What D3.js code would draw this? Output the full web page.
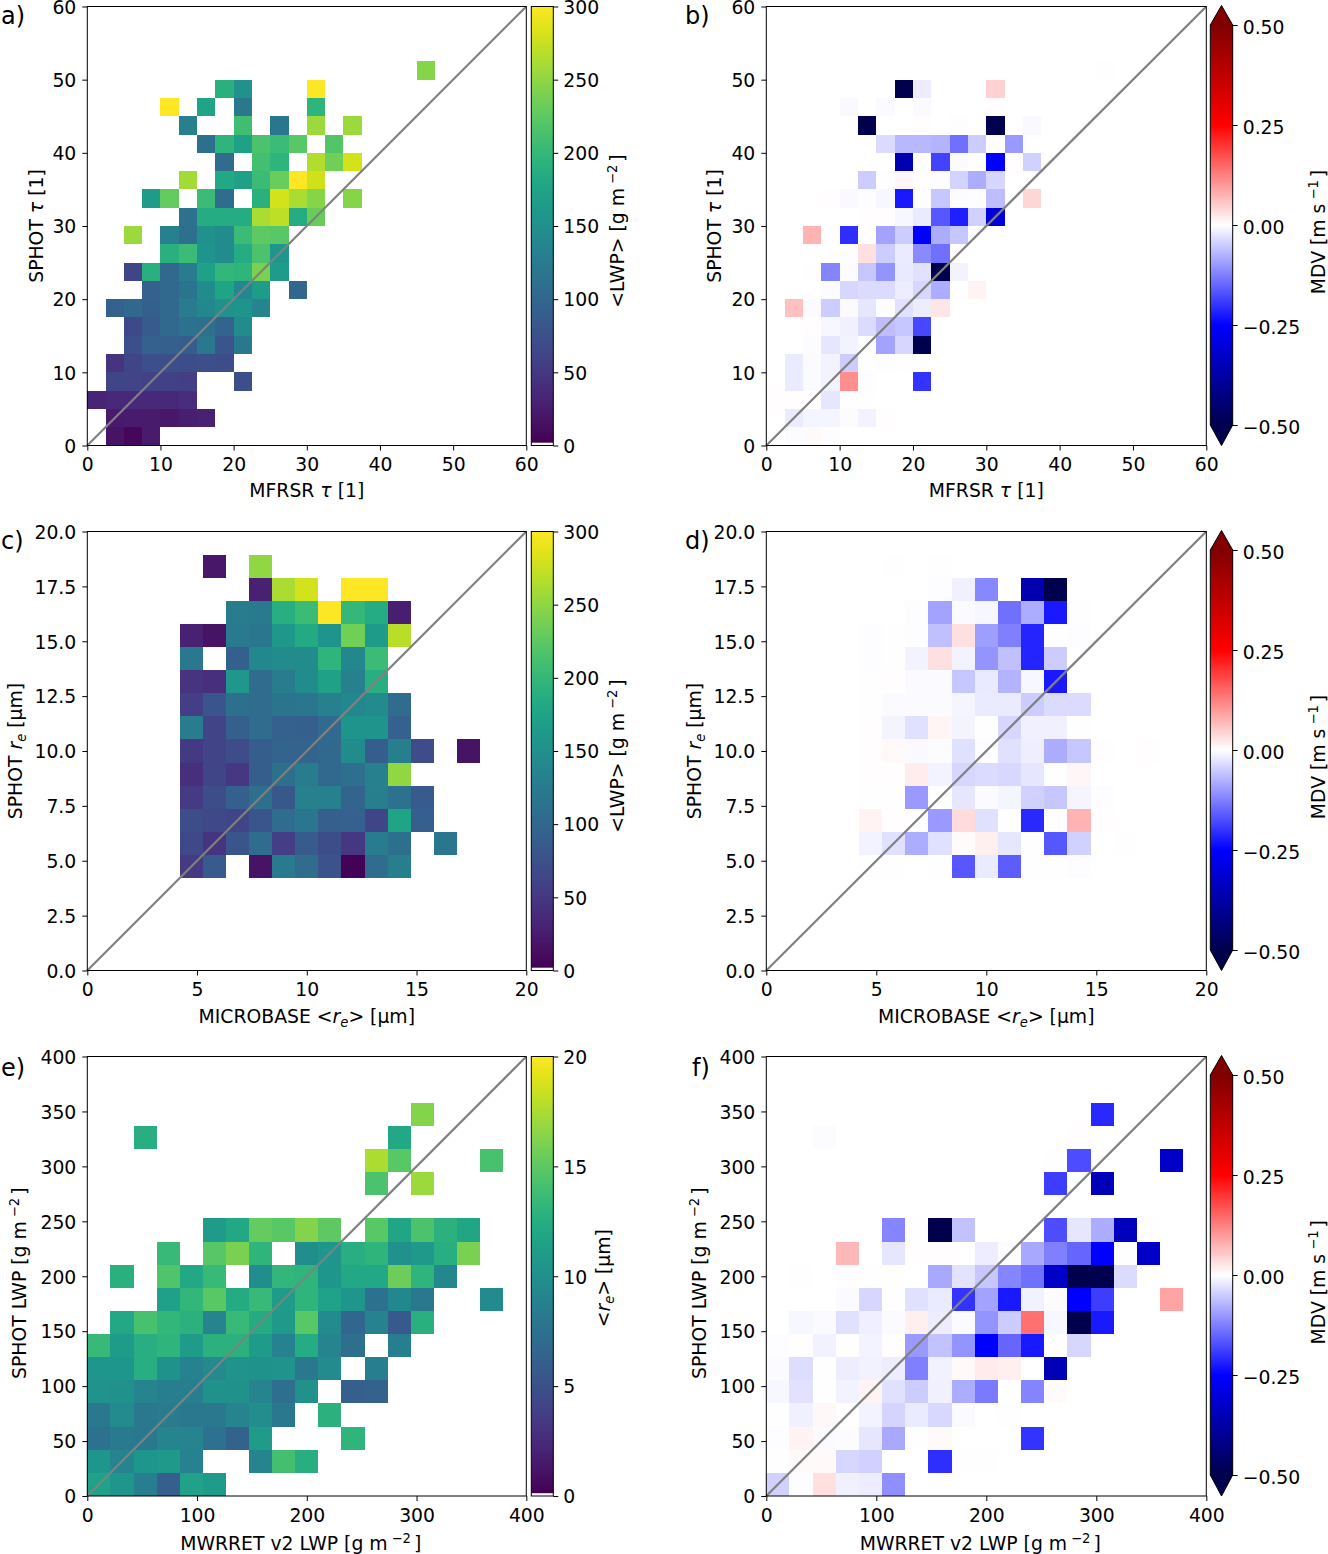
<!DOCTYPE html>
<html>
<head>
<meta charset="utf-8">
<script src="https://cdn.jsdelivr.net/npm/d3@7"></script>
<style>
  html, body { margin: 0; padding: 0; background: #fff; }
  svg { display: block; }
  text { font-family: "DejaVu Sans", sans-serif; fill: #000; }
</style>
</head>
<body>
<svg id="chart" width="1328" height="1554"></svg>
<script>
const _ = null;

// mean LWP binned on MFRSR tau (rows) / SPHOT tau, row 0 is the bottom row
const tauLwp = [
  [_,15,5,22],
  [_,20,22,22,18,25,28],
  [30,33,33,33,33,38],
  [_,62,60,58,58,55,_,_,72],
  [_,45,62,72,72,70,72,70],
  [_,_,72,92,90,88,120,78,120],
  [_,_,65,85,100,112,110,95,145],
  [_,92,100,90,100,125,140,150,155,135],
  [_,_,_,92,100,115,145,175,140,165,_,98],
  [_,_,62,190,100,125,170,198,195,240,165],
  [_,_,_,_,190,205,155,145,185,215,158],
  [_,_,255,_,130,110,150,145,205,225,222],
  [_,_,_,_,_,112,185,185,185,262,270,185,230],
  [_,_,_,165,228,_,205,105,_,190,280,262,245,_,245],
  [_,_,_,_,_,258,_,180,170,205,232,300,278],
  [_,_,_,_,_,_,_,105,_,210,195,_,265,235,280],
  [_,_,_,_,_,_,110,195,170,215,205,222,_,218],
  [_,_,_,_,_,130,_,_,208,_,118,_,255,_,255],
  [_,_,_,_,300,_,175,_,120,_,_,_,195],
  [_,_,_,_,_,_,_,190,150,_,_,_,300],
  [_,_,_,_,_,_,_,_,_,_,_,_,_,_,_,_,_,_,245],
];

const tauMdv = [
  [_,-.003,.005,-.002],
  [_,-.02,-.01,-.01,-.003,-.012,.002],
  [.002,.002,.002,-.025,.001,.001],
  [_,-.02,-.005,-.012,.11,-.002,_,_,-.2],
  [_,-.02,-.005,-.012,-.05,.001,-.002,-.001],
  [_,_,-.003,-.025,-.012,-.002,-.09,-.04,-.5],
  [_,_,.002,-.008,-.015,-.035,-.065,-.055,-.18],
  [_,.062,-.004,-.05,-.005,-.025,-.002,-.03,-.018,.025],
  [_,_,_,-.003,-.04,-.035,-.035,-.018,-.04,-.08,_,.012],
  [_,_,.002,-.12,-.003,-.055,-.105,-.022,-.028,-.5,-.012],
  [_,_,_,_,-.002,.03,-.05,-.02,-.115,-.14,.002],
  [_,_,.075,_,-.205,.002,-.09,-.05,-.25,-.08,-.055],
  [_,_,_,_,_,.002,.002,-.008,-.02,-.165,-.22,-.045,-.3],
  [_,_,_,.002,-.006,-.002,-.008,-.225,-.002,-.055,-.003,-.002,-.065,_,.04],
  [_,_,_,_,_,-.05,-.001,.008,.002,-.002,-.043,-.08,-.04],
  [_,_,_,_,_,_,_,-.36,-.001,-.185,-.005,-.001,-.25,.002,-.045],
  [_,_,_,_,_,_,-.035,-.07,-.07,-.075,-.14,-.05,-.001,-.1],
  [_,_,_,_,_,-.5,_,_,.002,_,-.002,_,-.5,_,-.006],
  [_,_,_,_,-.006,_,-.004,_,-.004,_,_,_,.002],
  [_,_,_,_,_,_,_,-.5,-.018,_,_,_,.045],
  [_,_,_,_,_,_,_,_,_,_,_,_,_,_,_,_,_,_,-.001],
];

const reLwp = [
  [],[],[],[],
  [_,_,_,_,52,85,_,15,122,105,75,2,105,128],
  [_,_,_,_,65,45,78,105,55,85,70,48,125,110,_,118],
  [_,_,_,_,70,65,62,78,105,118,90,92,62,175,90],
  [_,_,_,_,52,70,90,108,82,130,130,95,128,112,85],
  [_,_,_,_,42,62,48,88,110,125,100,108,130,250],
  [_,_,_,_,50,60,68,88,95,95,100,145,88,128,68,_,15],
  [_,_,_,_,125,60,90,105,92,90,102,155,155,92],
  [_,_,_,_,55,78,110,105,115,118,130,140,145,105],
  [_,_,_,_,45,40,160,105,125,145,170,130,188],
  [_,_,_,_,120,_,90,140,145,145,195,140,205],
  [_,_,_,_,28,15,122,118,160,182,155,235,165,268],
  [_,_,_,_,_,_,125,122,188,205,300,200,185,25],
  [_,_,_,_,_,_,_,28,262,280,_,300,300],
  [_,_,_,_,_,18,_,250],
];

const reMdv = [
  [],[],[],[],
  [_,_,_,_,.001,-.001,_,.001,-.165,-.02,-.16,-.001,-.001,-.002],
  [_,_,_,_,-.012,-.03,-.08,-.03,.004,.015,-.025,.001,-.165,-.045,_,-.001],
  [_,_,_,_,.012,.002,.001,-.1,.035,-.03,-.001,-.21,-.001,.075,.002],
  [_,_,_,_,-.001,.001,-.1,-.001,-.025,-.005,-.01,-.045,-.055,-.01,-.002],
  [_,_,_,_,.002,.002,.018,-.012,-.04,-.035,-.038,-.025,-.001,.008],
  [_,_,_,_,.002,.006,-.006,-.003,-.03,-.002,-.03,-.017,-.08,-.055,.002,_,.002],
  [_,_,_,_,.002,-.011,-.03,.01,-.011,-.001,-.04,-.015,-.015,-.001],
  [_,_,_,_,.001,-.005,-.005,-.005,-.01,-.02,-.02,-.05,-.035,-.035],
  [_,_,_,_,.001,.002,-.005,-.005,-.055,-.022,-.075,-.008,-.225],
  [_,_,_,_,-.002,.001,-.012,.03,-.012,-.105,-.062,-.215,-.05],
  [_,_,_,_,-.002,.001,-.002,-.062,.03,-.095,-.125,-.215,-.001,-.002],
  [_,_,_,_,_,_,-.002,-.09,-.005,-.008,-.14,-.08,-.225,.001],
  [_,_,_,_,_,_,_,-.002,-.015,-.118,_,-.36,-.5],
  [_,_,_,_,_,-.001,_,.001],
];

const lwpRe = [
  [11.5,10.5,8.5,6,11.5,11],
  [10.5,9,10.5,10.8,8.8,_,_,9,14,12.5],
  [7.5,8.2,8,9,9,7.5,6.3,11,_,_,_,13],
  [8,9.5,8,8.3,8,8,9,9.8,8,_,12.8],
  [10.3,10,9,8.5,8.5,10,10,9,7.2,10,_,6,6.2],
  [10.5,10.5,12.5,10.2,8.8,9.5,10.3,10.2,10.3,8,9.5,_,8.5],
  [13.5,11,12.5,13,11,12.8,12.8,11,8.8,12.3,9,7.2,_,8.5],
  [_,12,14.2,13.2,12.8,9,13.5,12.2,10.8,14.8,9.5,6.5,8.8,5.5,12.7],
  [_,_,_,11.3,13.2,14.8,12.2,13.5,11,13,11.5,10.5,7.5,9.3,8,_,_,9.5],
  [_,12.7,_,14.5,12,13.5,_,9.8,13.2,13,10.5,12,12,15.5,13,9.3],
  [_,_,_,13.5,_,14.7,16,13,_,9.8,10.5,12.5,13,10,10.8,12.5,16],
  [_,_,_,_,_,11,12,15.2,14.8,16.3,15,_,14.8,11.8,14.3,12.8,11.8],
  [],
  [_,_,_,_,_,_,_,_,_,_,_,_,14.3,_,17],
  [_,_,_,_,_,_,_,_,_,_,_,_,17.5,14.8,_,_,_,14.2],
  [_,_,12.5,_,_,_,_,_,_,_,_,_,_,12],
  [_,_,_,_,_,_,_,_,_,_,_,_,_,_,16.3],
];

const lwpMdv = [
  [-.045,-.002,.03,-.015,-.018,-.11],
  [.001,.005,.006,-.04,-.045,_,_,-.205,.001,.001],
  [-.002,.012,-.004,-.003,-.025,-.085,-.001,.005,_,_,_,-.2],
  [.001,-.015,.007,.002,-.012,-.042,-.02,-.038,-.005,_,.001],
  [-.008,-.028,-.001,-.012,.012,-.03,-.05,-.015,-.08,-.13,_,-.12,.004],
  [-.005,-.033,-.001,-.018,-.013,-.018,-.125,-.013,.006,.02,.016,_,-.35],
  [-.002,.002,-.014,.001,-.012,.002,-.1,-.06,-.105,-.25,-.15,-.225,_,-.04],
  [_,-.008,-.005,-.03,-.016,-.005,.015,-.018,-.004,-.105,-.05,.14,-.008,-.5,-.225],
  [_,_,_,-.005,-.04,-.001,-.03,-.02,-.2,-.09,-.225,-.013,-.003,-.25,-.19,_,_,.09],
  [_,-.001,_,.002,.001,.001,_,-.085,-.027,-.055,-.12,-.14,-.33,-.5,-.5,-.035],
  [_,_,_,.07,_,-.025,.002,.002,_,-.018,-.003,-.085,-.125,-.15,-.25,-.001,-.33],
  [_,_,_,_,_,-.12,.001,-.5,-.06,_,_,_,-.175,-.025,-.08,-.34,.002],
  [],
  [_,_,_,_,_,_,_,_,_,_,_,_,-.19,_,-.35],
  [_,_,_,_,_,_,_,_,_,_,_,_,.001,-.175,_,_,_,-.33],
  [_,_,-.003,_,_,_,_,_,_,_,_,_,_,.002],
  [_,_,_,_,_,_,_,_,_,_,_,_,_,_,-.21],
];

const tauTicks = [0, 10, 20, 30, 40, 50, 60];
const reXTicks = [0, 5, 10, 15, 20];
const reYTicks = [0, 2.5, 5, 7.5, 10, 12.5, 15, 17.5, 20];
const lwpXTicks = [0, 100, 200, 300, 400];
const lwpYTicks = [0, 50, 100, 150, 200, 250, 300, 350, 400];
const lwpCbarTicks = [0, 50, 100, 150, 200, 250, 300];
const reCbarTicks = [0, 5, 10, 15, 20];
const mdvCbarTicks = [-0.5, -0.25, 0, 0.25, 0.5];

const seismic = d3.scaleLinear()
  .domain([-0.5, -0.25, 0, 0.25, 0.5])
  .range(['#00004d', '#0000ff', '#ffffff', '#ff0000', '#800000'])
  .clamp(true);

const FONT = 18.8;
const svg = d3.select('#chart');
const defs = svg.append('defs');

// text with mathtext-like runs: i = italic, sup / sub = raised / lowered, gap = extra space before
function richText(sel, parts) {
  let shift = 0;
  parts.forEach((p) => {
    const target = p.sup ? -7 : p.sub ? 3.5 : 0;
    sel.append('tspan')
      .attr('dy', target - shift)
      .attr('dx', p.gap || 0)
      .attr('font-size', p.sup || p.sub ? FONT * 0.7 : FONT)
      .attr('font-style', p.i ? 'italic' : 'normal')
      .text(p.t);
    shift = target;
  });
}

const mtau = { t: '\u03c4', i: true };
const re = [{ t: 'r', i: true }, { t: 'e', i: true, sub: true }];
const gm2 = [{ t: '[g m' }, { t: '\u22122', sup: true, gap: 4 }, { t: ']', gap: 3 }];
const ms1 = [{ t: '[m s' }, { t: '\u22121', sup: true, gap: 4 }, { t: ']', gap: 3 }];
const cbLwp = [{ t: '<LWP> ' }, ...gm2];
const cbRe = [{ t: '<' }, ...re, { t: '> [\u00b5m]' }];
const cbMdv = [{ t: 'MDV ' }, ...ms1];

const panels = [
  { tag: 'a)', tagX: 1, tagY: 24, grid: tauLwp, bins: 24, max: 60, left: 87.3, top: 6.5, w: 439, h: 439,
    xTicks: tauTicks, yTicks: tauTicks, fmtY: (d) => d,
    xLabel: [{ t: 'MFRSR ' }, mtau, { t: ' [1]' }], yLabel: [{ t: 'SPHOT ' }, mtau, { t: ' [1]' }], yLabelX: 36,
    xLabelY: 51.5, xLabelShift: 0, yLabelShift: 0,
    kind: 'seq', cMax: 300, cTicks: lwpCbarTicks, cLabel: cbLwp, cLabelX: 617, cLabelShift: 5 },
  { tag: 'b)', tagX: 685, tagY: 24, grid: tauMdv, bins: 24, max: 60, left: 766.3, top: 6.5, w: 440, h: 439,
    xTicks: tauTicks, yTicks: tauTicks, fmtY: (d) => d,
    xLabel: [{ t: 'MFRSR ' }, mtau, { t: ' [1]' }], yLabel: [{ t: 'SPHOT ' }, mtau, { t: ' [1]' }], yLabelX: 714,
    xLabelY: 51.5, xLabelShift: 0, yLabelShift: 0,
    kind: 'div', cLabel: cbMdv, cLabelX: 1318, cLabelShift: 6 },
  { tag: 'c)', tagX: 1, tagY: 549, grid: reLwp, bins: 19, max: 20, left: 87.3, top: 531.5, w: 439, h: 439,
    xTicks: reXTicks, yTicks: reYTicks, fmtY: (d) => d.toFixed(1),
    xLabel: [{ t: 'MICROBASE <' }, ...re, { t: '> [\u00b5m]' }], yLabel: [{ t: 'SPHOT ' }, ...re, { t: ' [\u00b5m]' }], yLabelX: 15,
    xLabelY: 52.5, xLabelShift: 0, yLabelShift: 0,
    kind: 'seq', cMax: 300, cTicks: lwpCbarTicks, cLabel: cbLwp, cLabelX: 617, cLabelShift: 5 },
  { tag: 'd)', tagX: 685, tagY: 549, grid: reMdv, bins: 19, max: 20, left: 766.3, top: 531.5, w: 440, h: 439,
    xTicks: reXTicks, yTicks: reYTicks, fmtY: (d) => d.toFixed(1),
    xLabel: [{ t: 'MICROBASE <' }, ...re, { t: '> [\u00b5m]' }], yLabel: [{ t: 'SPHOT ' }, ...re, { t: ' [\u00b5m]' }], yLabelX: 694,
    xLabelY: 52.5, xLabelShift: 0, yLabelShift: 0,
    kind: 'div', cLabel: cbMdv, cLabelX: 1318, cLabelShift: 6 },
  { tag: 'e)', tagX: 1, tagY: 1076, grid: lwpRe, bins: 19, max: 400, left: 87.3, top: 1056.5, w: 439, h: 439.5,
    xTicks: lwpXTicks, yTicks: lwpYTicks, fmtY: (d) => d,
    xLabel: [{ t: 'MWRRET v2 LWP ' }, ...gm2], yLabel: [{ t: 'SPHOT LWP ' }, ...gm2], yLabelX: 19,
    xLabelY: 54, xLabelShift: -6, yLabelShift: 7,
    kind: 'seq', cMax: 20, cTicks: reCbarTicks, cLabel: cbRe, cLabelX: 603, cLabelShift: 2 },
  { tag: 'f)', tagX: 692, tagY: 1076, grid: lwpMdv, bins: 19, max: 400, left: 766.3, top: 1056.5, w: 440, h: 439.5,
    xTicks: lwpXTicks, yTicks: lwpYTicks, fmtY: (d) => d,
    xLabel: [{ t: 'MWRRET v2 LWP ' }, ...gm2], yLabel: [{ t: 'SPHOT LWP ' }, ...gm2], yLabelX: 699,
    xLabelY: 54, xLabelShift: -6, yLabelShift: 7,
    kind: 'div', cLabel: cbMdv, cLabelX: 1318, cLabelShift: 6 },
];

function styleAxis(g) {
  g.select('.domain').remove();
  g.selectAll('.tick line').attr('stroke', '#000').attr('stroke-width', 1);
  g.selectAll('.tick text').attr('font-size', FONT).attr('font-family', '"DejaVu Sans", sans-serif');
  g.attr('font-size', FONT).attr('font-family', '"DejaVu Sans", sans-serif');
}

function drawSeqBar(p, i, g) {
  const x0 = p.left + p.w + 5;
  const bw = 22;
  const scale = d3.scaleLinear().domain([0, p.cMax]).range([p.top + p.h, p.top]);
  const grad = defs.append('linearGradient').attr('id', `seq${i}`)
    .attr('x1', 0).attr('y1', 1).attr('x2', 0).attr('y2', 0);
  d3.range(0, 1.01, 0.05).forEach((t) => {
    grad.append('stop').attr('offset', t).attr('stop-color', d3.interpolateViridis(t));
  });
  g.append('rect').attr('x', x0).attr('y', p.top).attr('width', bw).attr('height', p.h - 2.8)
    .attr('fill', `url(#seq${i})`);
  g.append('rect').attr('x', x0).attr('y', p.top).attr('width', bw).attr('height', p.h)
    .attr('fill', 'none').attr('stroke', '#000').attr('stroke-width', 1);
  g.append('g').attr('transform', `translate(${x0 + bw},0)`)
    .call(d3.axisRight(scale).tickValues(p.cTicks).tickSize(5).tickPadding(5))
    .call(styleAxis)
    .call((a) => a.selectAll('.tick text').attr('dy', '.36em'));
}

function drawDivBar(p, i, g) {
  const x0 = p.left + p.w + 4;
  const bw = 22.4;
  const scale = d3.scaleLinear().domain([-0.5, 0.5]).range([p.top + 418.5, p.top + 18.5]);
  const grad = defs.append('linearGradient').attr('id', `div${i}`)
    .attr('x1', 0).attr('y1', 1).attr('x2', 0).attr('y2', 0);
  mdvCbarTicks.forEach((v, k) => {
    grad.append('stop').attr('offset', k / 4).attr('stop-color', seismic(v));
  });
  const top = scale(0.5);
  const bot = scale(-0.5);
  // extend arrows at both ends
  g.append('path')
    .attr('d', `M${x0},${top}L${x0 + bw / 2},${p.top - 1}L${x0 + bw},${top}Z`)
    .attr('fill', seismic(0.5));
  g.append('path')
    .attr('d', `M${x0},${bot}L${x0 + bw / 2},${p.top + p.h}L${x0 + bw},${bot}Z`)
    .attr('fill', seismic(-0.5));
  g.append('rect').attr('x', x0).attr('y', top).attr('width', bw).attr('height', bot - top)
    .attr('fill', `url(#div${i})`);
  g.append('path')
    .attr('d', `M${x0},${top}L${x0 + bw / 2},${p.top - 1}L${x0 + bw},${top}L${x0 + bw},${bot}L${x0 + bw / 2},${p.top + p.h}L${x0},${bot}Z`)
    .attr('fill', 'none').attr('stroke', '#000').attr('stroke-width', 1);
  g.append('g').attr('transform', `translate(${x0 + bw},0)`)
    .call(d3.axisRight(scale).tickValues(mdvCbarTicks).tickSize(5).tickPadding(5)
      .tickFormat((d) => d3.format('.2f')(d).replace('-', '\u2212')))
    .call(styleAxis)
    .call((a) => a.selectAll('.tick text').attr('dy', '.46em'));
}

panels.forEach((p, i) => {
  const g = svg.append('g').attr('class', `panel panel-${i}`);
  const x = d3.scaleLinear().domain([0, p.max]).range([p.left, p.left + p.w]);
  const y = d3.scaleLinear().domain([0, p.max]).range([p.top + p.h, p.top]);
  const step = p.max / p.bins;
  const color = p.kind === 'seq'
    ? d3.scaleSequential(d3.interpolateViridis).domain([0, p.cMax])
    : seismic;

  const cells = [];
  p.grid.forEach((row, r) => row.forEach((v, c) => {
    if (v !== null && v !== undefined) cells.push({ r, c, v });
  }));

  g.append('g').attr('class', 'cells').selectAll('rect')
    .data(cells)
    .join('rect')
    .attr('x', (d) => x(d.c * step))
    .attr('y', (d) => y((d.r + 1) * step))
    .attr('width', (d) => x((d.c + 1) * step) - x(d.c * step))
    .attr('height', (d) => y(d.r * step) - y((d.r + 1) * step))
    .attr('fill', (d) => color(d.v))
    .attr('shape-rendering', 'crispEdges');

  // 1:1 line
  g.append('line')
    .attr('x1', x(0)).attr('y1', y(0)).attr('x2', x(p.max)).attr('y2', y(p.max))
    .attr('stroke', '#808080').attr('stroke-width', 2.2);

  g.append('g').attr('transform', `translate(0,${p.top + p.h})`)
    .call(d3.axisBottom(x).tickValues(p.xTicks).tickSize(5).tickPadding(7.5).tickFormat((d) => d))
    .call(styleAxis);
  g.append('g').attr('transform', `translate(${p.left},0)`)
    .call(d3.axisLeft(y).tickValues(p.yTicks).tickSize(5).tickPadding(6).tickFormat(p.fmtY))
    .call(styleAxis)
    .call((a) => a.selectAll('.tick text').attr('dy', '.36em'));

  g.append('rect')
    .attr('x', p.left).attr('y', p.top).attr('width', p.w).attr('height', p.h)
    .attr('fill', 'none').attr('stroke', '#000').attr('stroke-width', 1);

  g.append('text')
    .attr('x', p.left + p.w / 2 + p.xLabelShift).attr('y', p.top + p.h + p.xLabelY)
    .attr('text-anchor', 'middle').attr('font-size', FONT)
    .call(richText, p.xLabel);

  g.append('text')
    .attr('transform', `translate(${p.yLabelX},${p.top + p.h / 2 + p.yLabelShift}) rotate(-90)`)
    .attr('y', 7)
    .attr('text-anchor', 'middle').attr('font-size', FONT)
    .call(richText, p.yLabel);

  g.append('text')
    .attr('x', p.tagX).attr('y', p.tagY)
    .attr('font-size', 24)
    .text(p.tag);

  if (p.kind === 'seq') drawSeqBar(p, i, g);
  else drawDivBar(p, i, g);

  g.append('text')
    .attr('transform', `translate(${p.cLabelX},${p.top + p.h / 2 + p.cLabelShift}) rotate(-90)`)
    .attr('y', 7)
    .attr('text-anchor', 'middle').attr('font-size', FONT)
    .call(richText, p.cLabel);
});
</script>
</body>
</html>
